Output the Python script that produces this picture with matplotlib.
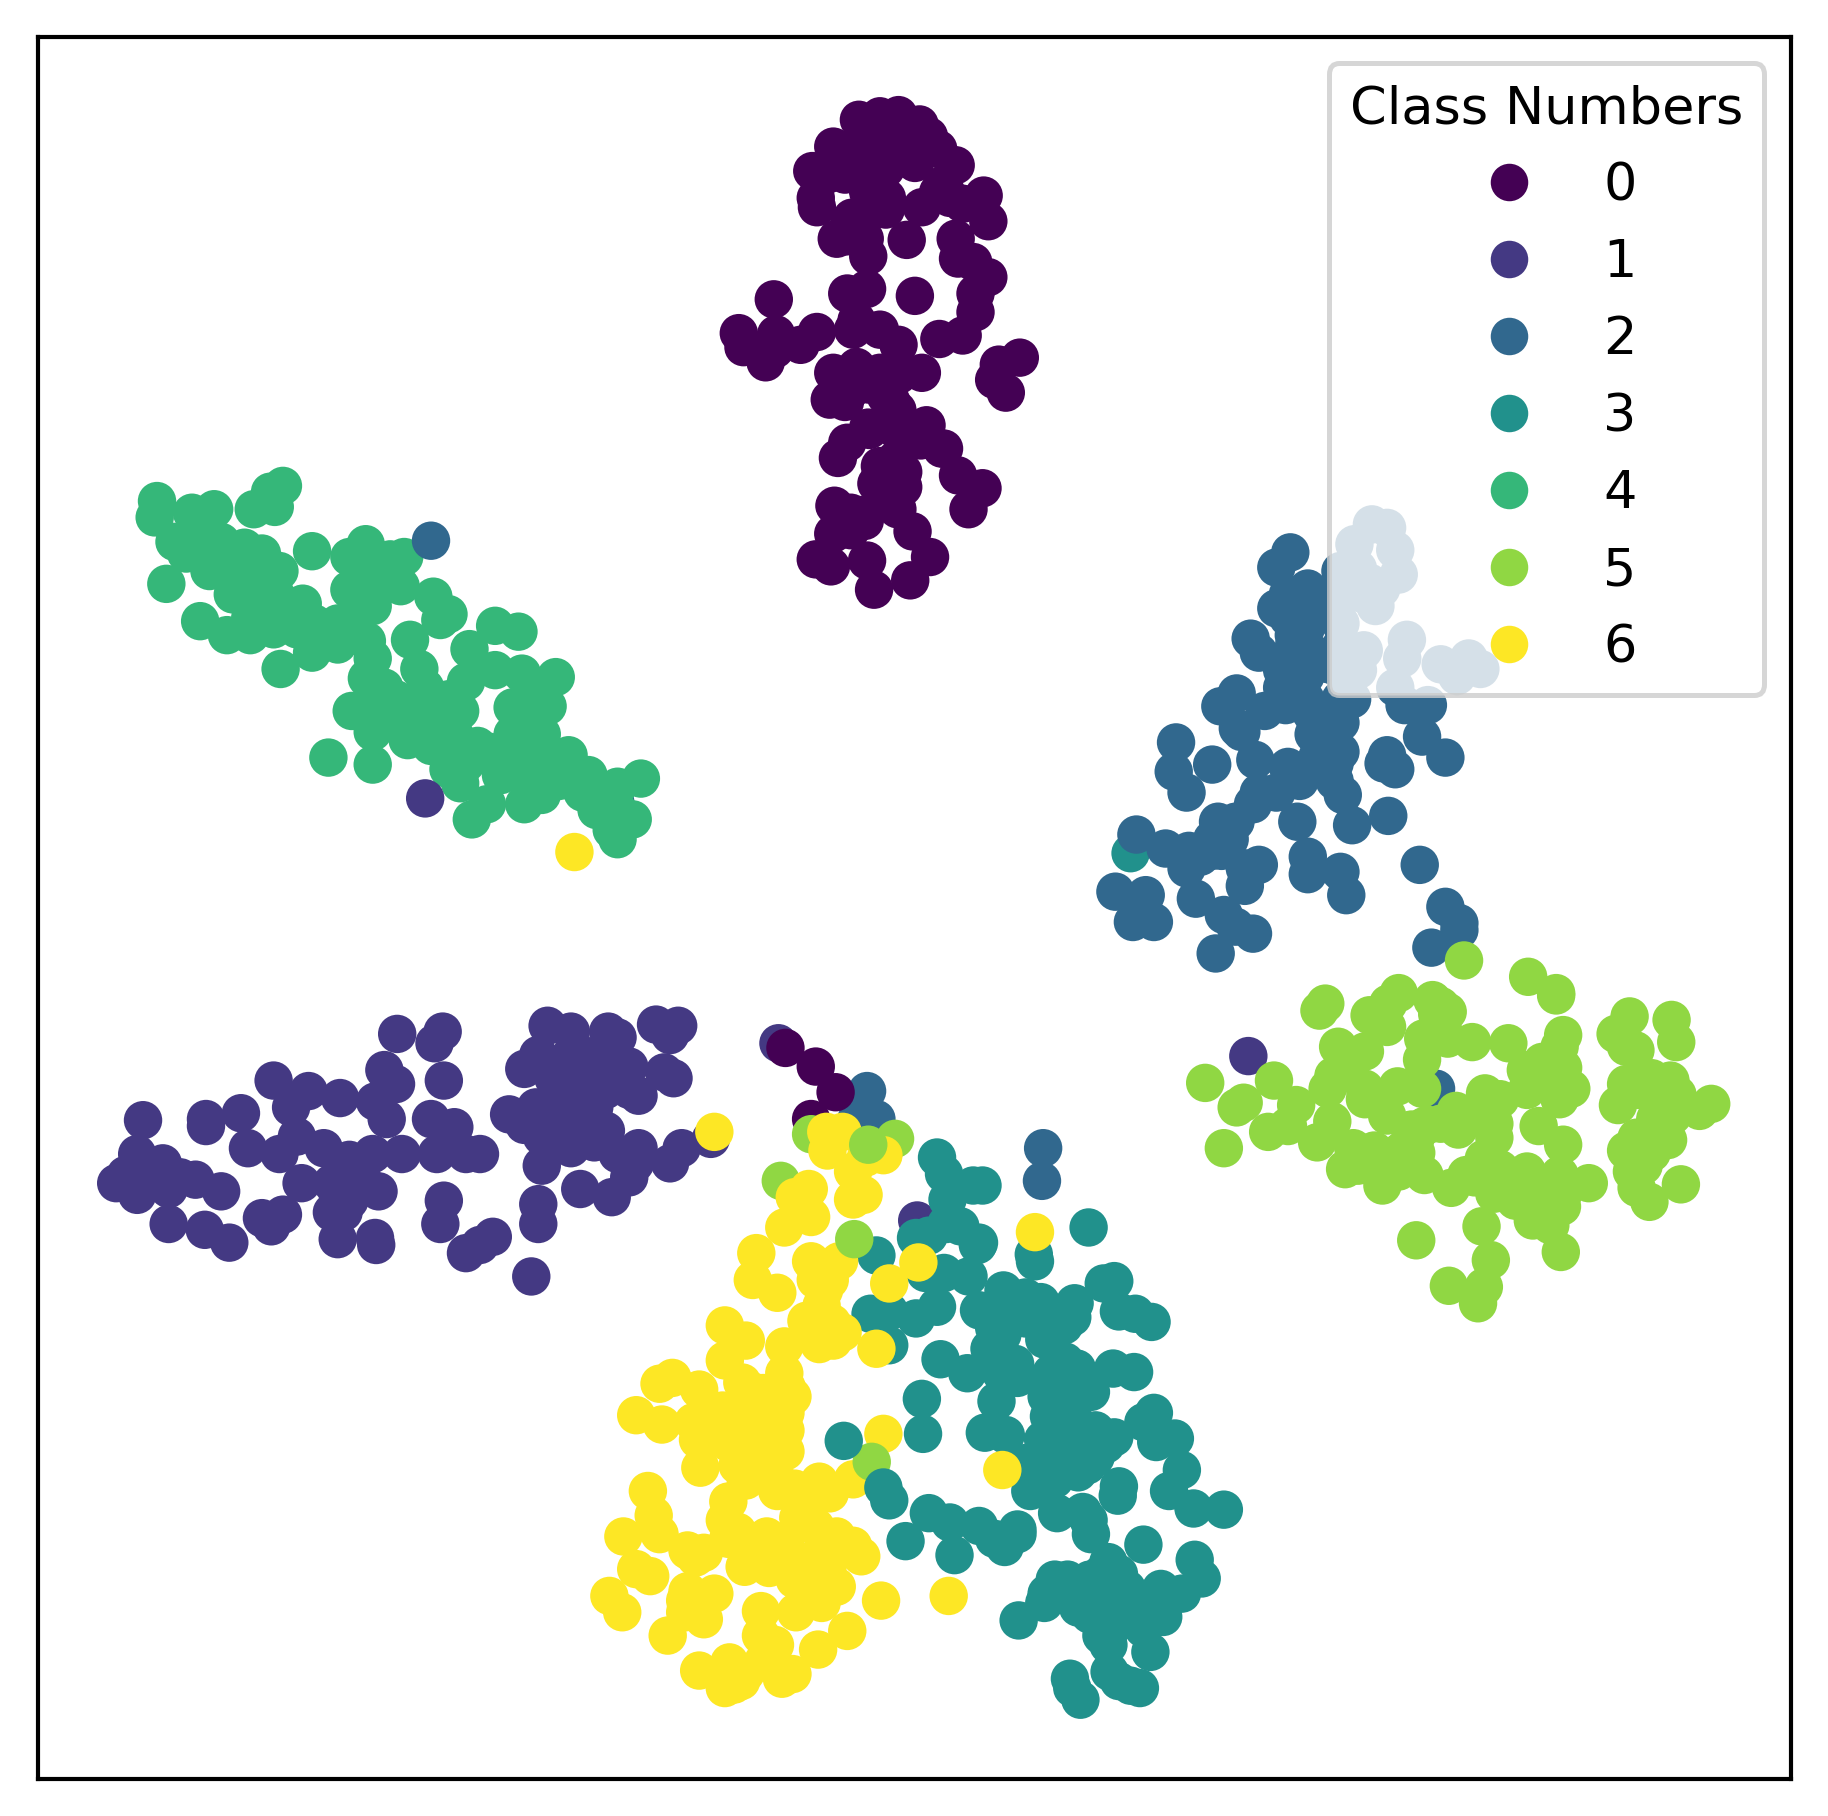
import numpy as np
import matplotlib
matplotlib.use("Agg")
import matplotlib.pyplot as plt

class_labels = ['0', '1', '2', '3', '4', '5', '6']
legend_title = 'Class Numbers'

c0 = [(737,103),(755,100),(771,99),(789,107),(797,117),(715,126),(697,147),(730,130),(750,120),(770,125),(785,140),(805,128),(820,142),(710,150),(725,150),(745,145),(760,145),(775,132),(700,170),(701,178),(745,165),(760,180),(791,178),(826,175),(844,168),(848,190),(731,187),(726,203),(742,205),(745,220),(778,206),(820,205),(822,222),(835,225),(848,238),(837,252),(837,268),(727,252),(744,248),(785,254),(664,257),(735,275),(732,283),(755,283),(771,296),(806,291),(826,288),(701,285),(634,286),(638,298),(666,287),(665,300),(657,311),(687,296),(715,320),(735,315),(755,320),(771,322),(791,320),(712,343),(730,335),(748,330),(765,345),(875,307),(857,313),(853,326),(863,337),(745,367),(768,360),(795,365),(727,380),(719,393),(808,385),(768,395),(752,415),(765,410),(775,418),(822,408),(843,419),(831,437),(770,437),(783,456),(716,434),(730,440),(742,447),(715,458),(700,480),(713,486),(744,481),(798,478),(781,498),(750,506),
      (810,158),(815,170),(805,165),(761,170),(744,160),(729,190),(718,205),(723,148),(760,425),(755,400),(775,405),(790,378),(810,385),(770,370),(783,369),(746,369),(722,325),(745,330),(760,340),(770,352),(725,345),(738,442),(730,455)]
c1 = [(123,961),(177,960),(177,966),(207,955),(235,927),(265,936),(292,942),(341,887),(380,885),(373,895),(381,927),(330,918),(340,930),(322,945),(332,960),(250,950),(255,975),(213,985),(240,990),(118,990),(140,998),(100,1015),(108,1008),(118,1025),(145,1020),(168,1012),(145,1050),(190,1022),(176,1055),(197,1066),(225,1045),(233,1052),(243,1042),(259,1015),(278,985),(300,995),(320,990),(345,990),(370,960),(390,967),(375,990),(400,990),(412,990),(285,1015),(300,1015),(325,1022),(285,1040),(295,1040),(290,1063),(322,1062),(323,1068),(381,1030),(378,1050),(400,1075),(412,1068),(423,1061),(462,1033),(462,1050),(456,1095),(470,880),(490,885),(522,885),(530,890),(563,879),(582,880),(575,888),(450,917),(462,905),(490,905),(515,908),(540,915),(570,920),(578,925),(548,940),(437,956),(460,950),(480,940),(500,950),(520,935),(480,965),(500,970),(520,970),(465,975),(530,990),(548,985),(465,1000),(498,1020),(525,1027),(540,1010),(545,998),(575,998),(585,985),(610,977),
      (155,1010),(130,1015),(480,955),(500,925),(495,945),(475,925),(530,925),(510,950),(470,955),(450,965),(490,985),(510,980),(540,935),(295,1005),(310,1005),(290,1025),(300,1030),(475,915),(500,905)]
c2 = [(1107,474),(1095,487),(1095,522),(1122,505),(1140,510),(1073,548),(1080,560),(1105,530),(1120,540),(1140,520),(1140,570),(1177,450),(1190,453),(1162,467),(1197,472),(1150,490),(1165,488),(1200,493),(1185,505),(1155,510),(1180,520),(1150,535),(1170,558),(1150,575),(1207,549),(1203,565),(1197,590),(1236,570),(1260,565),(1270,574),(1250,580),(1120,580),(1100,575),(1110,555),(1150,600),(1061,595),(1047,606),(1103,605),(1125,612),(1160,600),(1150,620),(1127,630),(1065,628),(1077,652),(1009,637),(1007,662),(1040,656),(1018,680),(1105,658),(1130,650),(1150,645),(1145,670),(1152,682),(1190,648),(1197,660),(1187,655),(1220,632),(1240,650),(1205,605),(1225,605),(1075,690),(1095,680),(1045,705),(1040,730),(1060,705),(1191,700),(1160,708),(1113,705),(1020,730),(1000,728),(975,716),(1018,745),(1030,735),(1080,742),(1068,760),(1122,735),(1122,750),(1150,748),(1155,768),(957,765),(983,768),(972,791),(990,791),(975,775),(1026,771),(1050,785),(1075,801),(1060,795),(1043,818),(1218,742),(1240,778),(1252,792),(1252,798),(1228,813),(895,985),(894,1013),
      (1120,520),(1105,510),(1125,525),(1110,545),(1125,560),(1100,590),(1120,600),(1145,655),(1115,670),(1080,680),(1040,720),(1055,720),(1068,745),(1085,610),(1062,625),(1048,730),(1150,555),(1165,575),(1160,490),(1175,500),(1170,510)]
c3 = [(804,993),(810,1007),(813,1029),(835,1017),(843,1017),(786,1062),(797,1060),(812,1050),(824,1052),(839,1068),(840,1066),(752,1077),(794,1092),(810,1092),(831,1095),(747,1127),(763,1125),(786,1131),(804,1121),(887,1076),(888,1082),(934,1053),(861,1107),(840,1124),(859,1123),(880,1113),(893,1117),(922,1118),(905,1127),(880,1131),(853,1139),(896,1149),(913,1137),(947,1101),(956,1099),(960,1125),(974,1127),(988,1134),(849,1157),(871,1170),(859,1178),(830,1178),(807,1166),(914,1168),(924,1174),(955,1174),(973,1177),(763,1154),(791,1200),(792,1230),(855,1202),(898,1198),(913,1190),(936,1194),(873,1182),(902,1178),(990,1212),(981,1220),(1008,1234),(992,1237),(1014,1261),(1003,1279),(905,1226),(923,1229),(940,1227),(956,1233),(845,1229),(863,1231),(898,1249),(920,1249),(889,1261),(933,1257),(884,1279),(905,1269),(925,1263),(949,1239),(960,1275),(959,1283),(1024,1294),(1050,1295),(797,1298),(815,1306),(840,1309),(873,1312),(873,1316),(907,1298),(929,1297),(934,1304),(936,1316),(862,1327),(853,1320),(777,1322),(819,1334),(981,1325),(951,1340),(960,1350),(916,1355),(898,1367),(896,1375),(925,1379),(942,1371),(967,1363),(874,1390),(996,1363),(1025,1338),(1031,1354),(1014,1367),(998,1387),(981,1397),(945,1403),(951,1411),(987,1417),(967,1387),(952,1434),(918,1440),(920,1448),(927,1458),(978,1448),(960,1442),(970,1446),
      (905,1200),(920,1210),(900,1215),(910,1240),(930,1240),(915,1260),(895,1235),(880,1255),(895,1270),(915,1180),(875,1130),(865,1135),(860,1145),(855,1170),(920,1130),(890,1130),(950,1360),(935,1385),(950,1385),(960,1370),(985,1375),(1000,1375),(955,1395),(905,1355),(925,1365),(935,1355),(975,1375),(945,1350),(940,1250)]
c4 = [(135,430),(133,444),(165,440),(184,437),(243,417),(232,422),(218,437),(236,435),(150,465),(170,455),(190,465),(210,470),(225,475),(160,475),(180,490),(200,490),(225,490),(240,490),(143,501),(200,510),(220,510),(240,515),(172,533),(195,545),(215,545),(235,540),(260,518),(268,473),(314,467),(300,478),(347,478),(335,480),(315,490),(300,506),(344,503),(320,520),(372,512),(385,527),(378,532),(241,574),(268,560),(290,535),(270,535),(255,540),(290,553),(315,550),(352,549),(425,537),(445,542),(403,557),(315,582),(360,574),(425,575),(448,578),(477,581),(302,610),(320,628),(340,600),(365,590),(385,600),(400,585),(440,607),(470,606),(455,600),(360,625),(350,635),(390,630),(410,640),(430,650),(450,640),(465,630),(440,630),(282,650),(320,656),(385,660),(395,672),(405,650),(430,665),(460,655),(488,648),(480,670),(505,665),(530,675),(550,668),(450,690),(465,682),(512,695),(418,690),(405,703),(530,695),(543,703),(525,712),(530,720),
      (175,470),(195,480),(215,480),(235,505),(205,500),(185,480),(235,525),(215,530),(250,530),(310,510),(325,505),(330,490),(310,525),(285,545),(320,565),(330,590),(320,605),(350,610),(375,615),(395,610),(370,640),(345,625),(400,655),(440,650),(420,645),(455,620),(445,660),(480,660),(500,680),(390,600)]
c5 = [(1256,824),(1311,838),(1335,852),(1335,854),(1137,861),(1132,867),(1200,852),(1191,861),(1175,871),(1190,881),(1229,858),(1242,868),(1236,863),(1233,870),(1294,895),(1341,888),(1338,898),(1398,872),(1434,875),(1438,894),(1386,887),(1395,898),(1403,901),(1263,894),(1242,891),(1221,891),(1148,898),(1171,902),(1144,923),(1139,934),(1171,934),(1199,932),(1220,909),(1220,934),(1034,929),(1093,927),(1067,946),(1061,950),(1112,948),(1171,943),(1190,957),(1143,962),(1309,918),(1323,911),(1341,916),(1348,934),(1316,930),(1338,943),(1274,938),(1287,943),(1395,930),(1417,925),(1433,927),(1439,939),(1388,948),(1468,947),(1458,953),(1435,957),(1282,964),(1282,976),(1320,966),(1249,953),(1236,964),(1251,969),(1222,966),(1211,969),(1088,971),(1105,966),(1130,980),(1050,985),(1161,985),(1179,987),(1200,989),(1215,989),(1341,982),(1395,987),(1404,976),(1417,971),(1431,978),(1417,989),(1273,994),(1258,1008),(1287,1003),(1154,1003),(1186,1017),(1171,999),(1222,1008),(1245,1019),(1282,1024),(1305,1015),(1338,1008),(1363,1015),(1341,1024),(1319,1022),(1404,1019),(1415,1031),(1442,1016),(1315,1047),(1330,1051),(1271,1052),(1215,1064),(1339,1074),(1279,1081),(1273,1104),(1243,1103),(1268,1118),
      (1205,985),(1215,975),(1180,1000),(1200,1005),(1265,1010),(1280,1010),(1300,1030),(1320,1035),(1340,1035),(1310,1005),(1310,935),(1330,925),(1335,930),(1405,935),(1400,1005),(1410,1000),(1160,910),(1225,965),(1260,960),(1165,1000),(1190,1000),(1205,1000),(1430,945),(1420,960)]
c6 = [(709,971),(723,971),(710,987),(743,993),(758,991),(732,1005),(732,1029),(741,1025),(694,1020),(685,1029),(682,1027),(696,1044),(673,1053),(649,1075),(646,1098),(667,1109),(696,1082),(720,1082),(700,1098),(712,1098),(707,1107),(763,1101),(788,1083),(622,1137),(640,1150),(692,1133),(714,1135),(723,1143),(703,1153),(673,1155),(752,1157),(622,1167),(637,1186),(673,1178),(647,1194),(680,1198),(577,1182),(566,1187),(600,1192),(546,1214),(568,1222),(595,1220),(611,1222),(642,1214),(674,1212),(674,1227),(599,1235),(624,1237),(642,1237),(674,1245),(601,1259),(633,1257),(653,1261),(758,1230),(732,1269),(703,1271),(712,1281),(682,1277),(667,1279),(860,1261),(556,1279),(561,1300),(566,1316),(535,1318),(625,1288),(622,1304),(633,1314),(658,1318),(674,1322),(685,1302),(700,1310),(718,1318),(732,1326),(739,1335),(664,1332),(639,1344),(590,1330),(597,1336),(604,1332),(546,1346),(558,1352),(523,1369),(534,1383),(588,1373),(613,1367),(604,1389),(588,1383),(573,1403),(682,1355),(703,1350),(718,1361),(705,1375),(683,1383),(653,1382),(653,1403),(665,1411),(756,1373),(814,1369),(727,1399),(702,1415),(600,1433),(626,1426),(622,1448),(636,1442),(671,1440),(680,1436),(888,1057),(613,971),(493,731),
      (640,1215),(625,1225),(640,1230),(650,1240),(655,1210),(660,1230),(620,1210),(655,1195),(675,1190),(665,1265),(640,1270),(690,1340),(700,1365),(710,1345),(660,1345),(650,1330),(625,1320),(705,1090),(705,1120),(715,1150),(690,1300),(710,1325),(590,1365),(655,1425),(640,1435),(660,1420),(630,1445)]

# Points that sit beneath the main clusters, lowest first: (x, y, class)
under = [(528,688,2),(1232,934,2),(970,732,3),(744,936,2),(752,960,2),(735,960,2),(668,895,1),(674,899,0),(700,915,0),(717,937,0),(696,960,0),(696,973,5),(670,1013,5),(768,977,5),(787,1047,1),(1071,906,1)]
# Points that sit above the main clusters, lowest first: (x, y, class)
over = [(745,982,5),(733,1063,5),(748,1254,5),(724,1236,3),(758,1276,3),(763,1287,3),(370,464,2),(365,685,1)]
draw_order = [0, 1, 2, 4, 5, 3, 6]

clusters = {0: c0, 1: c1, 2: c2, 3: c3, 4: c4, 5: c5, 6: c6}
xs = [p[0] for p in under]
ys = [p[1] for p in under]
ls = [p[2] for p in under]
for k in draw_order:
    xs += [p[0] for p in clusters[k]]
    ys += [p[1] for p in clusters[k]]
    ls += [k] * len(clusters[k])
xs += [p[0] for p in over]
ys += [p[1] for p in over]
ls += [p[2] for p in over]

W, H = 1828, 1816
fig = plt.figure(figsize=(W / 300, H / 300), dpi=300)
ax = fig.add_axes([37.5 / W, 1 - 1779 / H, (1790.5 - 37.5) / W, (1779 - 37) / H])
sc = ax.scatter(xs, ys, c=ls, cmap='viridis', vmin=0, vmax=6, s=85, linewidths=0)
ax.set_xlim(32.5, 1536)
ax.set_ylim(1526, 32)
ax.set_xticks([])
ax.set_yticks([])
for spine in ax.spines.values():
    spine.set_linewidth(1.0)
handles, _ = sc.legend_elements(prop='colors', size=9)
leg = ax.legend(handles, class_labels, title=legend_title, loc='upper right',
                fontsize=12.6, title_fontsize=12.6, labelspacing=0.515)
leg.get_frame().set_linewidth(1.2)
fig.savefig('out.png', dpi=300)
